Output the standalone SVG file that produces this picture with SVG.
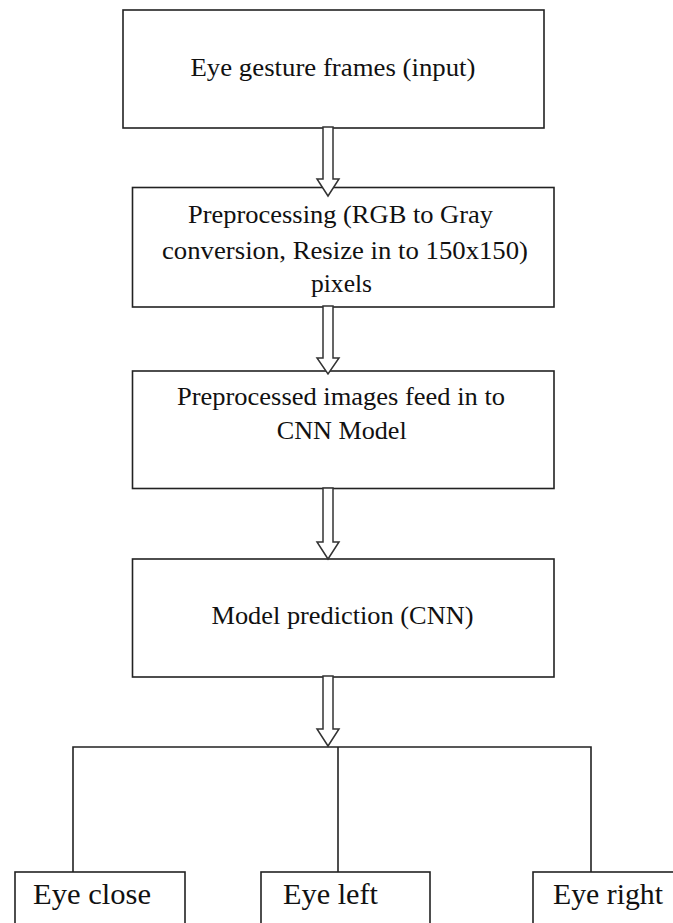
<svg xmlns="http://www.w3.org/2000/svg" width="673" height="923" viewBox="0 0 673 923">
<style>
.box{fill:#fff;stroke:#222;stroke-width:1.6}
.t{font-family:"Liberation Serif","Times New Roman",serif;font-size:26px;fill:#111}
.tb{font-family:"Liberation Serif","Times New Roman",serif;font-size:29px;fill:#111}
.arr{fill:#fff;stroke:#333;stroke-width:1.5;stroke-linejoin:miter}
.ln{fill:none;stroke:#222;stroke-width:1.6}
</style>
<rect width="673" height="923" fill="#fff"/>
<g id="n1">
<rect class="box" x="123" y="10" width="421" height="118"/>
<text class="t" x="333" y="76" text-anchor="middle" textLength="285" lengthAdjust="spacingAndGlyphs">Eye gesture frames (input)</text>
</g>
<g id="n2">
<rect class="box" x="132.5" y="187.5" width="421.5" height="119.5"/>
<text class="t" x="340.5" y="223" text-anchor="middle" textLength="305" lengthAdjust="spacingAndGlyphs">Preprocessing (RGB to Gray</text>
<text class="t" x="345" y="259" text-anchor="middle" textLength="366" lengthAdjust="spacingAndGlyphs">conversion, Resize in to 150x150)</text>
<text class="t" x="341.5" y="292" text-anchor="middle" textLength="61" lengthAdjust="spacingAndGlyphs">pixels</text>
</g>
<g id="n3">
<rect class="box" x="132.5" y="371" width="421.5" height="117.5"/>
<text class="t" x="341" y="405" text-anchor="middle" textLength="328" lengthAdjust="spacingAndGlyphs">Preprocessed images feed in to</text>
<text class="t" x="341.7" y="439" text-anchor="middle" textLength="130" lengthAdjust="spacingAndGlyphs">CNN Model</text>
</g>
<g id="n4">
<rect class="box" x="132.5" y="559" width="421.5" height="118"/>
<text class="t" x="342.5" y="624" text-anchor="middle" textLength="262" lengthAdjust="spacingAndGlyphs">Model prediction (CNN)</text>
</g>
<g id="n5">
<rect class="box" x="15" y="872" width="170" height="80"/>
<text class="tb" x="33" y="904" textLength="118" lengthAdjust="spacingAndGlyphs">Eye close</text>
</g>
<g id="n6">
<rect class="box" x="261" y="872" width="169" height="80"/>
<text class="tb" x="283" y="904" textLength="95" lengthAdjust="spacingAndGlyphs">Eye left</text>
</g>
<g id="n7">
<rect class="box" x="533" y="872" width="160" height="80"/>
<text class="tb" x="553" y="904" textLength="110" lengthAdjust="spacingAndGlyphs">Eye right</text>
</g>
<g id="connectors">
<polygon class="arr" points="323,127 333,127 333,179 339,179 328,196 317,179 323,179"/>
<polygon class="arr" points="323,306 333,306 333,358 339,358 328,374 317,358 323,358"/>
<polygon class="arr" points="323,488 333,488 333,542 339,542 328,559 317,542 323,542"/>
<polygon class="arr" points="323,676 333,676 333,729 339,729 328,746 317,729 323,729"/>
<polyline class="ln" points="73,872 73,747 591,747 591,872"/>
<line class="ln" x1="338" y1="747" x2="338" y2="872"/>
</g>
</svg>
